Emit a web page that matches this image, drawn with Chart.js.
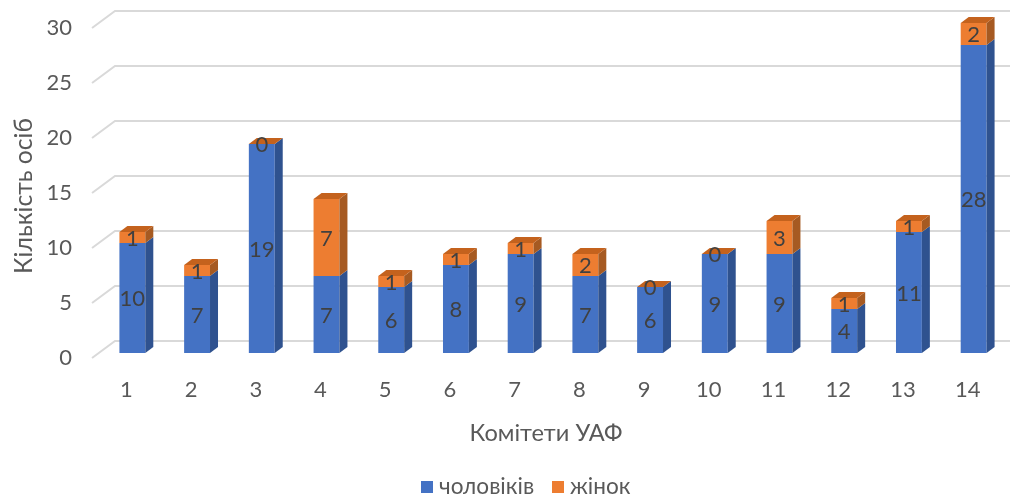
<!DOCTYPE html>
<html>
<head>
<meta charset="utf-8">
<script src="https://cdn.jsdelivr.net/npm/chart.js@4.4.1/dist/chart.umd.min.js"></script>
<style>
  html, body { margin: 0; padding: 0; background: #fff; }
  #wrap { width: 1016px; height: 497px; position: relative; }
</style>
</head>
<body>
<div id="wrap"><canvas id="chart"></canvas></div>
<script>
// --- дані ---
const committees = ['1', '2', '3', '4', '5', '6', '7', '8', '9', '10', '11', '12', '13', '14'];
const men = [10, 7, 19, 7, 6, 8, 9, 7, 6, 9, 9, 4, 11, 28];
const women = [1, 1, 0, 7, 1, 1, 1, 2, 0, 0, 3, 1, 1, 2];
const yTicks = [0, 5, 10, 15, 20, 25, 30];

const FONT = 'Lato, "Open Sans", sans-serif';
const DX = 8, DY = 6;   // глибина бічної грані
const faces = [
    { front: '#4472C4', side: '#2F528F', top: '#3A63AD' },
    { front: '#ED7D31', side: '#A65A22', top: '#C4621D' }
];

// підбирає розмір шрифту під потрібну ширину тексту
function fitFont(ctx, text, width) {
    ctx.font = '20px ' + FONT;
    const s = 20 * width / ctx.measureText(text).width;
    ctx.font = s.toFixed(1) + 'px ' + FONT;
}

const backdrop = {
    id: 'backdrop',
    beforeDatasetsDraw(chart) {
        const ctx = chart.ctx;
        const y = chart.scales.y;
        const x = chart.scales.x;
        ctx.save();
        ctx.strokeStyle = '#D9D9D9';
        ctx.lineWidth = 2;
        yTicks.forEach(v => {
            const py = y.getPixelForValue(v);
            ctx.beginPath();
            ctx.moveTo(92, py + 5);
            ctx.lineTo(115, py - 12);
            ctx.lineTo(1010, py - 12);
            ctx.stroke();
        });
        ctx.fillStyle = '#595959';
        ctx.font = '22px ' + FONT;
        ctx.textAlign = 'right';
        ctx.textBaseline = 'middle';
        yTicks.forEach(v => ctx.fillText(String(v), 72, y.getPixelForValue(v) + 5));
        ctx.textAlign = 'center';
        committees.forEach((c, i) => ctx.fillText(c, x.getPixelForValue(i) - 6, 390));
        fitFont(ctx, 'Комітети УАФ', 153);
        ctx.fillText('Комітети УАФ', 546, 433);
        ctx.save();
        ctx.translate(24, 196);
        ctx.rotate(-Math.PI / 2);
        fitFont(ctx, 'Кількість осіб', 156);
        ctx.fillText('Кількість осіб', 0, 0);
        ctx.restore();
        // легенда
        ctx.textAlign = 'left';
        ctx.fillStyle = faces[0].front;
        ctx.fillRect(421, 481, 12, 12);
        ctx.fillStyle = faces[1].front;
        ctx.fillRect(552, 481, 12, 12);
        ctx.fillStyle = '#595959';
        fitFont(ctx, 'чоловіків', 95);
        ctx.fillText('чоловіків', 439, 487);
        ctx.fillText('жінок', 570, 487);
        ctx.restore();
    },
    afterDatasetsDraw(chart) {
        const ctx = chart.ctx;
        ctx.save();
        chart.data.datasets.forEach((ds, di) => {
            const meta = chart.getDatasetMeta(di);
            meta.data.forEach(bar => {
                const left = bar.x - bar.width / 2, right = bar.x + bar.width / 2;
                const top = Math.min(bar.y, bar.base), bottom = Math.max(bar.y, bar.base);
                ctx.fillStyle = faces[di].side;
                ctx.beginPath();
                ctx.moveTo(right, bottom);
                ctx.lineTo(right + DX, bottom - DY);
                ctx.lineTo(right + DX, top - DY);
                ctx.lineTo(right, top);
                ctx.closePath();
                ctx.fill();
                if (di === chart.data.datasets.length - 1) {
                    ctx.fillStyle = faces[di].top;
                    ctx.beginPath();
                    ctx.moveTo(left, top);
                    ctx.lineTo(left + DX, top - DY);
                    ctx.lineTo(right + DX, top - DY);
                    ctx.lineTo(right, top);
                    ctx.closePath();
                    ctx.fill();
                }
            });
        });
        // підписи значень
        ctx.fillStyle = '#404040';
        ctx.font = '22px ' + FONT;
        ctx.textAlign = 'center';
        ctx.textBaseline = 'middle';
        chart.data.datasets.forEach((ds, di) => {
            chart.getDatasetMeta(di).data.forEach((bar, i) => {
                ctx.fillText(String(ds.data[i]), bar.x, (bar.y + bar.base) / 2 + 1);
            });
        });
        ctx.restore();
    }
};

new Chart(document.getElementById('chart'), {
    type: 'bar',
    data: {
        labels: committees,
        datasets: [
            { label: 'чоловіків', data: men, backgroundColor: faces[0].front },
            { label: 'жінок', data: women, backgroundColor: faces[1].front }
        ]
    },
    options: {
        responsive: true,
        maintainAspectRatio: false,
        animation: false,
        events: [],
        layout: { padding: { left: 100, right: 10, top: 23, bottom: 144 } },
        datasets: { bar: { categoryPercentage: 1, barPercentage: 0.4, minBarLength: 0 } },
        scales: {
            x: { stacked: true, display: false },
            y: { stacked: true, display: false, min: 0, max: 30 }
        },
        plugins: { legend: { display: false }, tooltip: { enabled: false } }
    },
    plugins: [backdrop]
});
</script>
</body>
</html>
